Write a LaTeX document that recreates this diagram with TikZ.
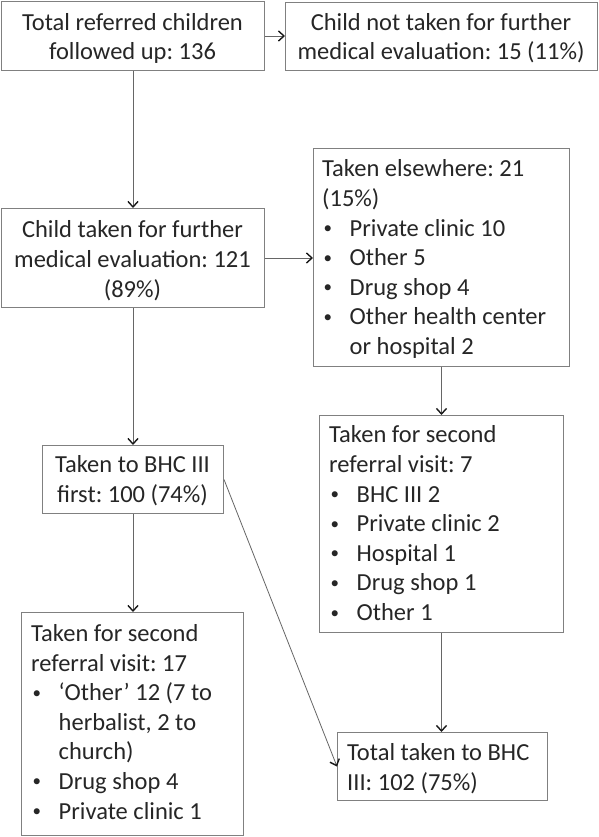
\documentclass[tikz,border=0pt]{standalone}
\usepackage{fontspec}
\setmainfont{Carlito}
\usetikzlibrary{arrows.meta}
\frenchspacing
\newcommand{\bitem}[1]{\makebox[27.5pt][l]{\hspace{1.5pt}\raisebox{2.5pt}{\fontsize{17}{17}\selectfont\textbullet}}#1}
\newcommand{\bcont}[1]{\hspace*{27.5pt}#1}
\begin{document}
\begin{tikzpicture}[x=1pt,y=-1pt,
  boxst/.style={draw=black!50, line width=1pt, rectangle, inner sep=0pt, anchor=north west},
  txt/.style={font=\fontsize{24.5}{29.6}\selectfont, inner sep=0pt, text=black!85},
  ctxt/.style={txt, align=center, anchor=base},
  ltxt/.style={txt, align=left, anchor=base west},
  conn/.style={draw=black!60, line width=0.8pt, -{Straight Barb[length=5.5pt,width=10pt,line width=1.4pt,color=black!90]}}]
\useasboundingbox (0,0) rectangle (598,837);
\fill[white] (0,0) rectangle (598,837);
% boxes
\node[boxst, minimum width=263pt, minimum height=69pt] (b1) at (1,1) {};
\node[boxst, minimum width=312pt, minimum height=68pt] (b2) at (285,2) {};
\node[boxst, minimum width=263pt, minimum height=99pt] (b3) at (1,208) {};
\node[boxst, minimum width=256pt, minimum height=218pt] (b4) at (313,148) {};
\node[boxst, minimum width=181pt, minimum height=68pt] (b6) at (42,445) {};
\node[boxst, minimum width=244pt, minimum height=217pt] (b5) at (319,415) {};
\node[boxst, minimum width=222pt, minimum height=223pt] (b8) at (21,612) {};
\node[boxst, minimum width=210pt, minimum height=68pt] (b7) at (337,732) {};
% texts (anchored at the baseline of the last line)
\node[ctxt] (t1) at (132.5,60) {Total referred children\\followed up: 136};
\node[ctxt] (t2) at (441,60) {Child not taken for further\\medical evaluation: 15 (11\%)};
\node[ctxt] (t3) at (132.5,297) {Child taken for further\\medical evaluation: 121\\(89\%)};
\node[ltxt] (t4) at (322,354.5) {Taken elsewhere: 21\\(15\%)\\\bitem{Private clinic 10}\\\bitem{Other 5}\\\bitem{Drug shop 4}\\\bitem{Other health center}\\\bcont{or hospital 2}};
\node[ctxt] (t6) at (132.5,502) {Taken to BHC III\\first: 100 (74\%)};
\node[ltxt] (t5) at (329,620.5) {Taken for second\\referral visit: 7\\\bitem{BHC III 2}\\\bitem{Private clinic 2}\\\bitem{Hospital 1}\\\bitem{Drug shop 1}\\\bitem{Other 1}};
\node[ltxt] (t8) at (31,819) {Taken for second\\referral visit: 17\\\bitem{‘Other’ 12 (7 to}\\\bcont{herbalist, 2 to}\\\bcont{church)}\\\bitem{Drug shop 4}\\\bitem{Private clinic 1}};
\node[ltxt] (t7) at (347,790) {Total taken to BHC\\III: 102 (75\%)};
% connectors
\draw[conn] (b1.east) -- (b1.east -| b2.west);
\draw[conn] (b1.south) -- (b3.north);
\draw[conn] (b3.east) -- (b3.east -| b4.west);
\draw[conn] (b3.south) -- (b6.north);
\draw[conn] (b4.south) -- (b4.south |- b5.north);
\draw[conn] (b5.south) -- (b5.south |- b7.north);
\draw[conn] (b6.south) -- (b6.south |- b8.north);
\draw[conn] (b6.east) -- (b7.west);
\end{tikzpicture}
\end{document}
